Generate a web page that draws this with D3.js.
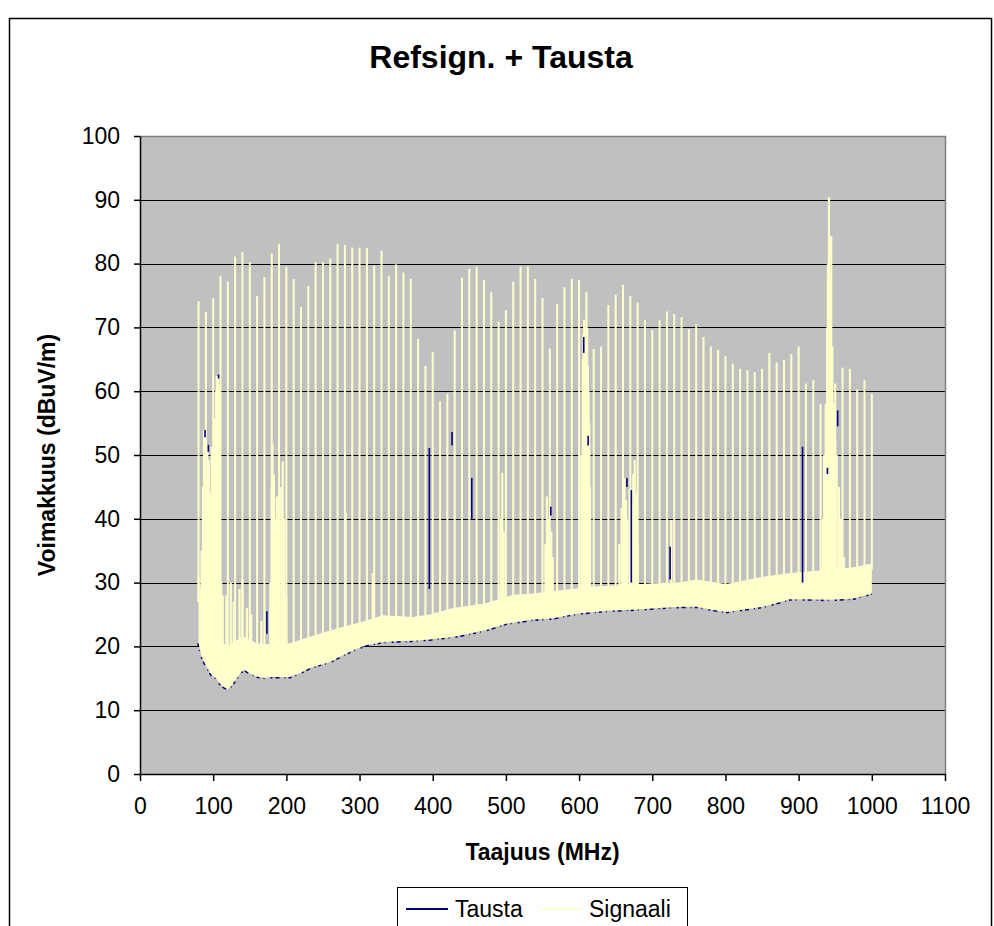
<!DOCTYPE html>
<html>
<head>
<meta charset="utf-8">
<script src="https://cdn.jsdelivr.net/npm/d3@7"></script>
<style>
  body { margin: 0; background: #fff; }
  text { font-family: "Liberation Sans", Arial, sans-serif; fill: #000; }
</style>
</head>
<body>
<svg id="chart" width="994" height="926"></svg>
<script>
// ---- data (MHz, dBuV/m) ----
const xTicks = [0, 100, 200, 300, 400, 500, 600, 700, 800, 900, 1000, 1100];
const yTicks = [0, 10, 20, 30, 40, 50, 60, 70, 80, 90, 100];

// reference comb: one carrier every 10 MHz from 80 to 1000 MHz
const combFreqs = d3.range(80, 1001, 10);
const combPeaks = [
  74.1, 72.4, 74.6, 78.1, 77.2, 81.1, 81.8, 80.2, 74.9, 77.9,   // 80-170
  81.6, 83.1, 79.5, 77.6, 73.2, 76.5, 80.2, 80.2, 80.8, 83.1,   // 180-270
  82.9, 82.5, 82.5, 82.5, 79.7, 82.0, 78.1, 79.9, 78.6, 77.6,   // 280-370
  68.2, 64.0, 66.2, 58.4, 59.6, 69.5, 77.8, 79.2, 79.5, 77.4,   // 380-470
  75.5, 70.9, 72.7, 77.2, 79.5, 79.5, 77.6, 74.6, 66.7, 73.7,   // 480-570
  76.3, 77.6, 77.4, 75.5, 66.6, 67.0, 73.5, 75.1, 76.7, 74.9,   // 580-670
  73.9, 71.2, 69.6, 71.2, 72.5, 72.1, 71.6, 69.7, 70.5, 68.5,   // 680-770
  67.0, 66.5, 65.5, 64.3, 63.5, 63.3, 63.0, 63.5, 66.0, 64.5,   // 780-870
  64.9, 65.8, 67.0, 61.2, 61.7, 58.0, 62.0, 61.2, 63.7, 63.5,   // 880-970
  60.3, 61.7, 59.6                                             // 980-1000
];

// background (Tausta) noise floor: [MHz, dB]
const taustaFloor = [
  [80, 20.5], [84, 18.5], [90, 17.0], [98, 15.5], [104, 15.0], [109, 14.2],
  [115, 13.6], [120, 13.3], [126, 14.0], [132, 15.0], [138, 16.0], [143, 16.3],
  [150, 15.8], [159, 15.3], [170, 15.1], [178, 15.2], [190, 15.2], [205, 15.2],
  [218, 15.8], [232, 16.6], [245, 17.1], [260, 17.6], [270, 18.2], [282, 18.9],
  [295, 19.6], [310, 20.2], [332, 20.7], [350, 20.8], [373, 20.9], [396, 21.1],
  [428, 21.5], [450, 22.0], [474, 22.6], [501, 23.6], [520, 23.9], [537, 24.2],
  [565, 24.4], [585, 24.9], [601, 25.2], [620, 25.4], [638, 25.6], [679, 25.8],
  [720, 26.1], [738, 26.2], [761, 26.2], [780, 25.8], [801, 25.4], [825, 25.8],
  [851, 26.2], [870, 26.8], [888, 27.4], [910, 27.4], [943, 27.3], [975, 27.5],
  [1000, 28.3]
];

// upper edge of the signal noise band: [MHz, dB]
const signalBandTop = [
  [80, 28.0], [84, 26.0], [90, 24.0], [98, 22.0], [109, 21.0], [120, 20.0],
  [132, 21.0], [143, 21.5], [159, 20.5], [178, 20.3], [205, 20.5], [232, 21.5],
  [260, 22.5], [282, 23.2], [305, 23.9], [332, 24.9], [373, 24.6], [396, 25.0],
  [428, 26.0], [474, 26.8], [510, 28.1], [537, 28.3], [574, 28.8], [620, 29.4],
  [660, 29.6], [703, 29.9], [738, 30.0], [760, 30.5], [801, 29.8], [851, 30.9],
  [888, 31.5], [943, 32.0], [975, 32.4], [1000, 33.0]
];

// broadcast / other signals rising above the band: [MHz, dB]
const signalBursts = [
  [80, 31.0], [82, 29.0], [84, 35.0], [86, 45.0], [87.5, 53.9], [89, 50.0],
  [90.5, 47.0], [92, 51.6], [94, 49.2], [96, 44.0], [98, 51.3], [100, 48.0],
  [101, 54.0], [102.5, 55.7], [104, 60.0], [105, 62.4], [106.5, 62.4], [108, 61.0],
  [109, 40.0], [111, 30.0], [113, 28.0], [118, 28.0], [124, 30.0], [128, 27.0],
  [136, 29.0], [140, 30.5], [146, 26.0], [152, 25.0], [166, 24.0],
  [178, 30.0], [180, 45.0], [181, 51.7], [183, 47.0], [185, 40.0], [187, 43.5],
  [189, 37.0], [193, 45.0], [195, 49.0], [197, 40.0], [200, 28.0],
  [281, 41.0], [318, 31.5],
  [493, 40.0], [495, 47.2], [497, 38.0],
  [554, 36.0], [556, 43.5], [558, 40.0], [562, 38.0], [564, 34.0],
  [603, 50.0], [605, 65.0], [606, 69.0], [607, 71.2], [608, 70.0], [609, 68.0],
  [610, 66.0], [611, 70.0], [612, 64.0], [613, 60.0], [614, 55.0], [615, 45.0],
  [655, 36.0], [658, 41.7], [660, 40.0], [662, 46.4], [664, 43.0], [666, 40.0],
  [669, 44.5], [672, 42.0], [674, 47.0], [676, 49.2], [678, 44.0], [680, 36.0],
  [726, 39.8],
  [933, 40.0], [935, 50.0], [937, 58.0], [939, 70.0], [940, 80.0], [941.5, 90.4],
  [943, 78.0], [944.5, 84.3], [946, 67.0], [948, 58.0], [950, 52.0], [952, 50.0],
  [955, 45.0], [958, 40.0], [962, 34.0]
];

// background peaks left visible above the signal: [MHz, top dB, lower dB]
const taustaBursts = [
  [87.5, 53.9, 52.8], [92, 51.6, 50.5], [106, 62.6, 62.0], [172, 25.5, 22.0],
  [394, 51.1, 29.0], [425, 53.6, 51.5], [452, 46.4, 40.0], [560, 41.9, 40.5],
  [605, 68.5, 66.0], [611, 53.0, 51.5], [664, 46.4, 45.0], [670, 44.5, 30.0],
  [723, 35.6, 30.5], [904, 51.3, 30.0], [938, 48.0, 47.0], [952, 57.0, 54.5]
];

const seriesNames = ["Tausta", "Signaali"];
const seriesColors = ["#000080", "#FFFFCC"];

// ---- layout ----
const svg = d3.select("#chart");
const x = d3.scaleLinear().domain([0, 1100]).range([140, 945]);
const y = d3.scaleLinear().domain([0, 100]).range([774, 136]);

// piecewise-linear lookup of the band's upper edge at any frequency
const topAt = d3.scaleLinear().domain(signalBandTop.map(d => d[0])).range(signalBandTop.map(d => d[1])).clamp(true);

// chart area border
svg.append("rect")
  .attr("x", 9.5).attr("y", 18.5).attr("width", 982).attr("height", 930)
  .attr("fill", "#fff").attr("stroke", "#000").attr("stroke-width", 1.5);

// plot area
svg.append("rect")
  .attr("x", x(0)).attr("y", y(100))
  .attr("width", x(1100) - x(0)).attr("height", y(0) - y(100))
  .attr("fill", "#C0C0C0");

// gridlines
svg.append("g").selectAll("line")
  .data(yTicks.filter(v => v > 0 && v < 100))
  .join("line")
  .attr("x1", x(0)).attr("x2", x(1100))
  .attr("y1", d => Math.round(y(d)) + 0.5).attr("y2", d => Math.round(y(d)) + 0.5)
  .attr("stroke", "#000").attr("stroke-width", 1);

// plot frame (top and right)
svg.append("path")
  .attr("d", `M${x(0)},${y(100) + 0.5}H${x(1100) + 0.5}V${y(0)}`)
  .attr("fill", "none").attr("stroke", "#808080").attr("stroke-width", 1.5);

const plot = svg.append("g");

// Tausta: floor line beneath the signal band (broken, as the trace dips in and out)
plot.append("path")
  .datum(taustaFloor)
  .attr("d", d3.line().x(d => x(d[0])).y(d => y(d[1])))
  .attr("fill", "none").attr("stroke", seriesColors[0]).attr("stroke-width", 3)
  .attr("stroke-dasharray", "3,4,1,6,2,3,4,5,1,3");

// Signaali: noise band
plot.append("path")
  .datum(signalBandTop)
  .attr("d", d => {
    const upper = d.map(p => [x(p[0]), y(p[1])]);
    const lower = taustaFloor.slice().reverse().map(p => [x(p[0]), y(p[1])]);
    return "M" + upper.concat(lower).map(p => p.join(",")).join("L") + "Z";
  })
  .attr("fill", seriesColors[1]);

// Signaali: broadcast signals
plot.append("g").selectAll("line")
  .data(signalBursts)
  .join("line")
  .attr("x1", d => x(d[0])).attr("x2", d => x(d[0]))
  .attr("y1", d => y(topAt(d[0]) - 1)).attr("y2", d => y(d[1]))
  .attr("stroke", seriesColors[1]).attr("stroke-width", 2.2);

// Signaali: reference comb carriers
plot.append("g").selectAll("line")
  .data(combFreqs.map((f, i) => [f, combPeaks[i]]))
  .join("line")
  .attr("x1", d => x(d[0])).attr("x2", d => x(d[0]))
  .attr("y1", d => y(topAt(d[0]) - 1)).attr("y2", d => y(d[1]))
  .attr("stroke", seriesColors[1]).attr("stroke-width", 2);

// Tausta: peaks
plot.append("g").selectAll("line")
  .data(taustaBursts)
  .join("line")
  .attr("x1", d => x(d[0]) + 1).attr("x2", d => x(d[0]) + 1)
  .attr("y1", d => y(d[2])).attr("y2", d => y(d[1]))
  .attr("stroke", seriesColors[0]).attr("stroke-width", 1.6);

// axes
const fontSize = 23;
const yAxis = svg.append("g")
  .attr("transform", `translate(${x(0)},0)`)
  .call(d3.axisLeft(y).tickValues(yTicks).tickFormat(d3.format("d"))
    .tickSize(6).tickPadding(14).tickSizeOuter(0));
const xAxis = svg.append("g")
  .attr("transform", `translate(0,${y(0)})`)
  .call(d3.axisBottom(x).tickValues(xTicks).tickFormat(d3.format("d"))
    .tickSize(7).tickPadding(17).tickSizeOuter(0));
[yAxis, xAxis].forEach(a => {
  a.selectAll("path").attr("stroke", "#000").attr("stroke-width", 1.5);
  a.selectAll("line").attr("stroke", "#000").attr("stroke-width", 1.5);
  a.selectAll("text").attr("font-size", fontSize).attr("font-family", "'Liberation Sans', Arial, sans-serif").attr("fill", "#000");
});

// titles
svg.append("text")
  .attr("x", 501).attr("y", 68)
  .attr("text-anchor", "middle").attr("font-size", 32).attr("font-weight", "bold")
  .text("Refsign. + Tausta");

svg.append("text")
  .attr("x", (x(0) + x(1100)) / 2).attr("y", 860)
  .attr("text-anchor", "middle").attr("font-size", fontSize).attr("font-weight", "bold")
  .text("Taajuus (MHz)");

svg.append("text")
  .attr("transform", `translate(55,${(y(0) + y(100)) / 2}) rotate(-90)`)
  .attr("text-anchor", "middle").attr("font-size", fontSize).attr("font-weight", "bold")
  .text("Voimakkuus (dBuV/m)");

// legend
const legend = svg.append("g");
legend.append("rect")
  .attr("x", 397.5).attr("y", 887.5).attr("width", 290).attr("height", 50)
  .attr("fill", "#fff").attr("stroke", "#000").attr("stroke-width", 1);
const legendX = [406, 540];
seriesNames.forEach((name, i) => {
  legend.append("line")
    .attr("x1", legendX[i]).attr("x2", legendX[i] + 42)
    .attr("y1", 909).attr("y2", 909)
    .attr("stroke", seriesColors[i]).attr("stroke-width", 2);
  legend.append("text")
    .attr("x", legendX[i] + 49).attr("y", 917)
    .attr("font-size", fontSize)
    .text(name);
});
</script>
</body>
</html>
